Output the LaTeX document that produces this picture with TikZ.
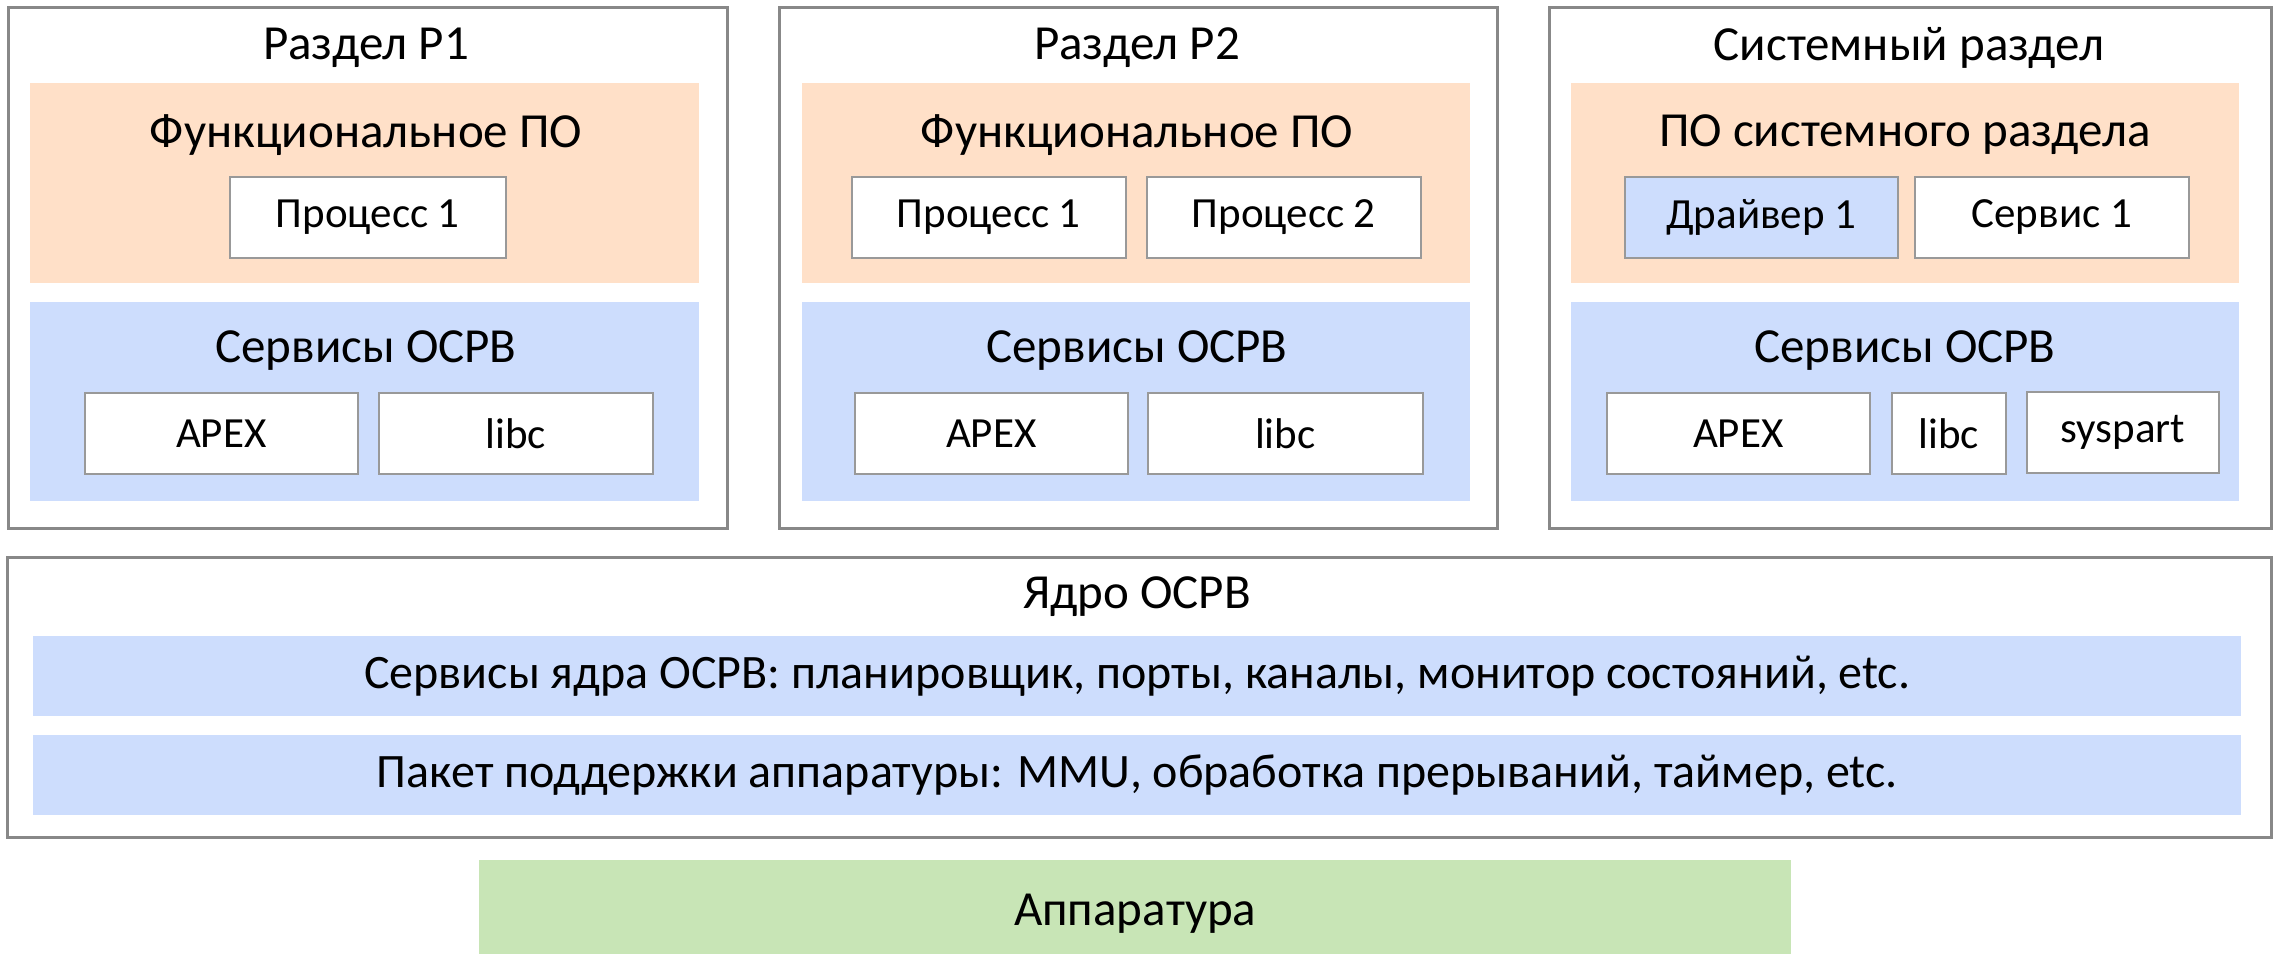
\documentclass[tikz,border=0pt]{standalone}
\usepackage{fontspec}
\setmainfont{Carlito}
\definecolor{peach}{HTML}{FFE0C8}
\definecolor{lblue}{HTML}{CDDDFD}
\definecolor{lgreen}{HTML}{C8E5B6}
\definecolor{frame}{HTML}{888888}
\definecolor{cellframe}{HTML}{999999}
\tikzset{
  panel/.style={draw=frame, line width=2.5pt, fill=white, rectangle, inner sep=0pt},
  band/.style={fill=#1, draw=none, rectangle, inner sep=0pt},
  cell/.style={draw=cellframe, line width=1.5pt, fill=white, rectangle, inner sep=0pt, font=\fontsize{43}{50}\selectfont},
  title/.style={font=\fontsize{49}{58}\selectfont, inner sep=0pt},
  bandtext/.style={font=\fontsize{48}{56}\selectfont},
}
% box from corner coordinates: #1 name, #2 style, (x1,y1) (x2,y2), #7 text
\newcommand\boxat[7]{%
  \node[#2, minimum width={(#5-#3)*1pt}, minimum height={(#6-#4)*1pt}, anchor=north west] (#1) at (#3,#4) {#7};}
\begin{document}
\begin{tikzpicture}[x=1pt,y=-1pt]
\useasboundingbox (0,0) rectangle (2277,954);
% partitions
\boxat{p1}{panel}{7}{6}{726}{527}{}
\boxat{p2}{panel}{778}{6}{1496}{527}{}
\boxat{ps}{panel}{1548}{6}{2270}{527}{}
% partition P1
\node[title] (p1t) at (366,48) {Раздел Р1};
\boxat{p1f}{band=peach}{30}{83}{699}{283}{}
\node[title] (p1ft) at (366,135) {Функциональное ПО};
\boxat{p1pr}{cell}{229}{176}{505}{257}{Процесс 1}
\boxat{p1s}{band=lblue}{30}{302}{699}{501}{}
\node[title] (p1st) at (366,351) {Сервисы ОСРВ};
\boxat{p1apex}{cell}{84}{392}{357}{473}{APEX}
\boxat{p1libc}{cell}{378}{392}{652}{473}{libc}
% partition P2
\node[title] (p2t) at (1137,48) {Раздел Р2};
\boxat{p2f}{band=peach}{802}{83}{1470}{283}{}
\node[title] (p2ft) at (1137,135) {Функциональное ПО};
\boxat{p2pr1}{cell}{851}{176}{1125}{257}{Процесс 1}
\boxat{p2pr2}{cell}{1146}{176}{1420}{257}{Процесс 2}
\boxat{p2s}{band=lblue}{802}{302}{1470}{501}{}
\node[title] (p2st) at (1137,351) {Сервисы ОСРВ};
\boxat{p2apex}{cell}{854}{392}{1127}{473}{APEX}
\boxat{p2libc}{cell}{1147}{392}{1422}{473}{libc}
% system partition
\node[title] (pst) at (1909,48) {Системный раздел};
\boxat{psf}{band=peach}{1571}{83}{2239}{283}{}
\node[title] (psft) at (1905,135) {ПО системного раздела};
\boxat{psdrv}{cell, fill=lblue}{1624}{176}{1897}{257}{Драйвер 1}
\boxat{pssrv}{cell}{1914}{176}{2188}{257}{Сервис 1}
\boxat{pss}{band=lblue}{1571}{302}{2239}{501}{}
\node[title] (psst) at (1905,351) {Сервисы ОСРВ};
\boxat{psapex}{cell}{1606}{392}{1869}{473}{APEX}
\boxat{pslibc}{cell}{1891}{392}{2005}{473}{libc}
\boxat{pssys}{cell}{2026}{391}{2218}{472}{\raisebox{3pt}{syspart}}
% kernel
\boxat{kern}{panel}{6}{556}{2270}{836}{}
\node[title] (kernt) at (1137,597) {Ядро ОСРВ};
\boxat{ksrv}{band=lblue, bandtext}{33}{636}{2241}{716}{Сервисы ядра ОСРВ: планировщик, порты, каналы, монитор состояний, etc.}
\boxat{kbsp}{band=lblue, bandtext}{33}{735}{2241}{815}{Пакет поддержки аппаратуры: MMU, обработка прерываний, таймер, etc.}
% hardware
\boxat{hw}{band=lgreen}{479}{860}{1791}{954}{}
\node[title] (hwt) at ([yshift=-7pt]hw.center) {Аппаратура};
\end{tikzpicture}
\end{document}
